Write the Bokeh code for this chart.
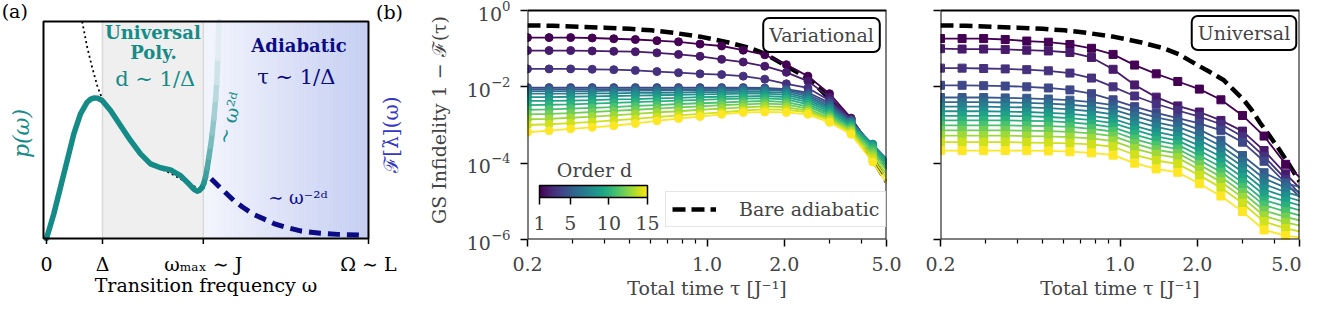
import numpy as np
from bokeh.plotting import figure
from bokeh.layouts import row
from bokeh.models import (Range1d, FixedTicker, Label, Legend, LegendItem, ColorBar,
                          LinearColorMapper, CustomJSTickFormatter)
from bokeh.palettes import Viridis256
from bokeh.embed import file_html
from bokeh.resources import INLINE

FONT = "DejaVu Serif"
TEAL = "#148b87"
NAVY = "#0b0b86"
BLUE_LBL = "#3636c4"

# ---------------- panel (a) data ----------------
a_tick_pos = [0.0, 1.0, 2.8, 5.75]
a_tick_labels = ["0", "Δ", "ωₘₐₓ ∼ J", "Ω ∼ L"]
a_box = [-0.0536, 5.75, 0.0, 1.0]          # axes box: left, right, bottom, top
a_xlim = [-0.8214, 6.6786]                  # whole canvas of panel (a)
a_ylim = [-0.2673, 1.0968]

omega_teal = [0.0, 0.131, 0.25, 0.369, 0.488, 0.607, 0.726, 0.79, 0.857, 0.92, 0.994, 1.143,
              1.321, 1.5, 1.679, 1.857, 2.036, 2.214, 2.393, 2.571, 2.64, 2.69, 2.73, 2.78]
p_teal = [0.0, 0.114, 0.236, 0.359, 0.482, 0.574, 0.628, 0.642, 0.648, 0.646, 0.636, 0.590,
          0.521, 0.452, 0.390, 0.344, 0.326, 0.316, 0.290, 0.244, 0.225, 0.218, 0.222, 0.236]

omega_fade = [2.78, 2.81, 2.84, 2.87, 2.90, 2.93, 2.96, 2.99, 3.02, 3.04, 3.06, 3.08]
p_fade = [0.236, 0.255, 0.283, 0.325, 0.375, 0.425, 0.485, 0.555, 0.64, 0.72, 0.83, 1.0]

omega_dot = [0.637, 0.726, 0.815, 0.905, 0.994, 1.143, 1.321, 1.5, 1.679, 1.857, 2.036, 2.214,
             2.393, 2.571, 2.72]
p_dot = [1.0, 0.882, 0.789, 0.705, 0.643, 0.582, 0.513, 0.445, 0.385, 0.344, 0.321, 0.301,
         0.275, 0.247, 0.233]

omega_decay = [2.94, 3.1, 3.345, 3.5, 3.70, 3.9, 4.06, 4.3, 4.536, 4.89, 5.2, 5.6]
p_decay = [0.275, 0.235, 0.175, 0.145, 0.111, 0.088, 0.069, 0.05, 0.035, 0.024, 0.019, 0.016]

# ---------------- panels (b), (c) data ----------------
tau = [0.2, 0.2427, 0.2945, 0.3573, 0.4335, 0.5261, 0.6383, 0.7745, 0.9398, 1.1403,
       1.3837, 1.6789, 2.0372, 2.4719, 2.9994, 3.6394, 4.4160, 5.3584]
orders = list(range(1, 16))
cbar_ticks = [1, 5, 10, 15]

# log10 of infidelity, variational
var_log = [
    [-0.71, -0.71, -0.71, -0.72, -0.74, -0.76, -0.79, -0.82, -0.88, -0.93, -1.04, -1.16, -1.42, -1.72, -2.18, -2.82, -3.62, -4.40],
    [-1.05, -1.05, -1.05, -1.06, -1.07, -1.08, -1.11, -1.15, -1.20, -1.28, -1.35, -1.46, -1.62, -1.85, -2.27, -2.84, -3.60, -4.35],
    [-1.53, -1.53, -1.53, -1.54, -1.55, -1.57, -1.60, -1.63, -1.66, -1.68, -1.72, -1.80, -1.92, -2.03, -2.36, -2.86, -3.58, -4.30],
    [-2.02, -2.02, -2.02, -2.02, -2.02, -2.02, -2.02, -2.02, -2.02, -2.02, -2.02, -2.03, -2.06, -2.15, -2.42, -2.88, -3.56, -4.25],
    [-2.06, -2.06, -2.06, -2.06, -2.06, -2.06, -2.06, -2.06, -2.06, -2.05, -2.05, -2.05, -2.08, -2.20, -2.47, -2.90, -3.54, -4.20],
    [-2.11, -2.11, -2.11, -2.11, -2.10, -2.10, -2.10, -2.09, -2.09, -2.09, -2.08, -2.08, -2.11, -2.25, -2.52, -2.92, -3.52, -4.15],
    [-2.18, -2.18, -2.18, -2.17, -2.17, -2.16, -2.16, -2.15, -2.14, -2.14, -2.13, -2.13, -2.16, -2.30, -2.56, -2.94, -3.50, -4.10],
    [-2.27, -2.27, -2.26, -2.25, -2.24, -2.23, -2.22, -2.21, -2.20, -2.19, -2.18, -2.18, -2.21, -2.35, -2.60, -2.97, -3.52, -4.12],
    [-2.37, -2.37, -2.36, -2.35, -2.33, -2.32, -2.30, -2.29, -2.27, -2.26, -2.25, -2.24, -2.27, -2.40, -2.65, -3.00, -3.55, -4.18],
    [-2.48, -2.47, -2.46, -2.44, -2.42, -2.40, -2.38, -2.36, -2.34, -2.32, -2.31, -2.30, -2.33, -2.46, -2.70, -3.04, -3.60, -4.26],
    [-2.60, -2.59, -2.57, -2.55, -2.53, -2.50, -2.48, -2.45, -2.43, -2.41, -2.39, -2.37, -2.40, -2.52, -2.75, -3.08, -3.66, -4.35],
    [-2.72, -2.71, -2.69, -2.66, -2.63, -2.60, -2.57, -2.54, -2.51, -2.48, -2.46, -2.44, -2.46, -2.58, -2.80, -3.12, -3.73, -4.45],
    [-2.85, -2.84, -2.81, -2.78, -2.75, -2.71, -2.67, -2.64, -2.60, -2.57, -2.54, -2.51, -2.53, -2.63, -2.84, -3.16, -3.80, -4.56],
    [-3.00, -2.98, -2.95, -2.92, -2.88, -2.84, -2.79, -2.75, -2.71, -2.67, -2.62, -2.59, -2.60, -2.67, -2.88, -3.20, -3.88, -4.68],
    [-3.19, -3.15, -3.10, -3.06, -3.02, -2.96, -2.89, -2.83, -2.78, -2.72, -2.67, -2.66, -2.67, -2.72, -2.93, -3.24, -3.97, -4.82],
]

# log10 of infidelity, universal
uni_log = [
    [-0.735, -0.735, -0.735, -0.76, -0.80, -0.83, -0.89, -0.99, -1.15, -1.43, -1.66, -1.86, -2.06, -2.34, -2.75, -3.29, -4.03, -4.55],
    [-1.00, -1.01, -1.01, -1.02, -1.04, -1.06, -1.10, -1.23, -1.54, -1.95, -2.27, -2.50, -2.66, -2.88, -3.16, -3.67, -4.28, -4.85],
    [-1.51, -1.51, -1.52, -1.53, -1.55, -1.58, -1.64, -1.77, -2.00, -2.24, -2.45, -2.62, -2.78, -2.98, -3.30, -3.82, -4.42, -5.00],
    [-1.96, -1.96, -1.97, -1.98, -2.00, -2.03, -2.08, -2.18, -2.34, -2.52, -2.68, -2.82, -2.96, -3.14, -3.45, -3.95, -4.52, -5.08],
    [-2.28, -2.28, -2.28, -2.29, -2.30, -2.32, -2.35, -2.40, -2.48, -2.64, -2.80, -2.92, -3.12, -3.40, -3.80, -4.25, -4.52, -4.68],
    [-2.40, -2.40, -2.40, -2.41, -2.42, -2.44, -2.47, -2.52, -2.60, -2.77, -2.93, -3.05, -3.26, -3.55, -3.95, -4.40, -4.64, -4.80],
    [-2.52, -2.52, -2.52, -2.53, -2.54, -2.56, -2.59, -2.64, -2.72, -2.89, -3.05, -3.17, -3.40, -3.69, -4.09, -4.55, -4.76, -4.92],
    [-2.64, -2.64, -2.64, -2.65, -2.66, -2.68, -2.71, -2.76, -2.84, -3.02, -3.18, -3.30, -3.54, -3.83, -4.23, -4.69, -4.88, -5.04],
    [-2.76, -2.76, -2.76, -2.76, -2.77, -2.79, -2.82, -2.87, -2.95, -3.13, -3.30, -3.41, -3.67, -3.97, -4.37, -4.83, -5.00, -5.16],
    [-2.88, -2.88, -2.88, -2.88, -2.89, -2.90, -2.93, -2.98, -3.06, -3.25, -3.41, -3.52, -3.80, -4.10, -4.51, -4.97, -5.13, -5.29],
    [-3.01, -3.01, -3.01, -3.01, -3.02, -3.03, -3.05, -3.10, -3.17, -3.37, -3.53, -3.63, -3.92, -4.23, -4.64, -5.10, -5.27, -5.42],
    [-3.14, -3.14, -3.14, -3.14, -3.15, -3.16, -3.18, -3.22, -3.29, -3.49, -3.65, -3.74, -4.04, -4.36, -4.77, -5.24, -5.41, -5.55],
    [-3.28, -3.28, -3.28, -3.28, -3.29, -3.30, -3.32, -3.35, -3.42, -3.62, -3.77, -3.86, -4.17, -4.49, -4.90, -5.38, -5.55, -5.68],
    [-3.45, -3.45, -3.45, -3.45, -3.46, -3.47, -3.48, -3.51, -3.57, -3.78, -3.93, -4.02, -4.32, -4.64, -5.05, -5.53, -5.71, -5.83],
    [-3.67, -3.67, -3.67, -3.67, -3.67, -3.68, -3.70, -3.73, -3.79, -4.00, -4.15, -4.24, -4.54, -4.86, -5.27, -5.75, -5.90, -5.98],
]

# bare adiabatic reference curve
adi_tau = [0.2, 0.25, 0.335, 0.4, 0.5, 0.608, 0.75, 0.95, 1.2, 1.48, 1.7, 2.0, 2.25, 2.53,
           2.75, 3.03, 3.25, 3.51, 3.8, 4.08, 4.3, 4.59, 4.94, 5.0]
adi_log = [-0.39, -0.40, -0.43, -0.45, -0.48, -0.52, -0.59, -0.69, -0.83, -0.99, -1.15, -1.43,
           -1.62, -1.82, -2.06, -2.34, -2.60, -2.94, -3.26, -3.55, -3.78, -4.07, -4.42, -4.48]

x_lim = [0.2, 5.0]
y_lim = [1e-6, 1.0]
y_top_canvas = 1.828          # frame extends 10px above the 10^0 line
y_ticks = [1e-6, 1e-4, 1e-2, 1.0]
x_ticks = [0.2, 1.0, 2.0, 5.0]
x_minor = [0.3, 0.4, 0.5, 0.6, 0.7, 0.8, 0.9, 3.0, 4.0]

colors = [Viridis256[int(round(k * 255 / 14))] for k in range(15)]


def hexmix(c0, c1, t):
    return "#%02x%02x%02x" % tuple(int(round(a + (b - a) * t)) for a, b in zip(c0, c1))


def style_axes(p):
    p.xgrid.visible = False
    p.ygrid.visible = False
    p.background_fill_color = "white"
    p.border_fill_color = "white"
    p.outline_line_color = None
    for ax in p.axis:
        ax.axis_line_color = None
        ax.major_tick_line_width = 1.5
        ax.minor_tick_line_width = 1.2
        ax.major_tick_in = 0
        ax.minor_tick_in = 0
        ax.major_label_text_font = FONT
        ax.major_label_text_font_size = "19px"
        ax.axis_label_text_font = FONT
        ax.axis_label_text_font_size = "19px"
        ax.axis_label_text_font_style = "normal"


# ---------------- panel (a): everything drawn inside one full-size frame ----------------
pa = figure(frame_width=420, frame_height=296, min_border_left=0, min_border_right=0,
            min_border_top=0, min_border_bottom=0,
            x_range=Range1d(*a_xlim), y_range=Range1d(*a_ylim),
            output_backend="svg", toolbar_location=None)
style_axes(pa)
pa.xaxis.visible = False
pa.yaxis.visible = False

# grey "universal" band
pa.quad(left=a_tick_pos[1], right=a_tick_pos[2], bottom=a_box[2], top=a_box[3],
        fill_color="#efefef", line_color=None)
# blue gradient "adiabatic" band
n = 90
edges = np.linspace(a_tick_pos[2], a_tick_pos[3], n + 1)
grad = [hexmix((243, 245, 253), (197, 206, 242), t) for t in np.linspace(0, 1, n)]
pa.quad(left=edges[:-1], right=edges[1:], bottom=a_box[2], top=a_box[3], fill_color=grad,
        line_color=grad, line_width=0.6)
pa.segment(x0=a_tick_pos[1:3], y0=[a_box[2]] * 2, x1=a_tick_pos[1:3], y1=[a_box[3]] * 2,
           line_color="#d9d9d9", line_width=1.5)

pa.line(omega_dot, p_dot, line_color="black", line_width=1.8, line_dash="2 3")
pa.line(omega_teal, p_teal, line_color=TEAL, line_width=5.5, line_join="round", line_cap="round")
fade = [hexmix((20, 139, 135), (236, 242, 249), t) for t in np.linspace(0, 0.95, len(omega_fade) - 1)]
pa.segment(x0=omega_fade[:-1], y0=p_fade[:-1], x1=omega_fade[1:], y1=p_fade[1:],
           line_color=fade, line_width=5.5, line_cap="round")
pa.line(omega_decay, p_decay, line_color=NAVY, line_width=5, line_dash="12 7")

# axes box and ticks of panel (a)
pa.quad(left=a_box[0], right=a_box[1], bottom=a_box[2], top=a_box[3], fill_color=None,
        line_color="black", line_width=2)
tick_len = 0.025
pa.segment(x0=a_tick_pos, y0=[a_box[2]] * 4, x1=a_tick_pos, y1=[a_box[2] - tick_len] * 4,
           line_color="black", line_width=1.5)


def alabel(x, y, text, size, color, style="normal", angle=0, align="center"):
    pa.add_layout(Label(x=x, y=y, text=text, text_font=FONT, text_font_size=size,
                        text_color=color, text_font_style=style, angle=angle, angle_units="deg",
                        text_align=align, text_baseline="middle"))


for pos, lab in zip(a_tick_pos, a_tick_labels):
    alabel(pos, -0.118, lab, "19px", "black")
alabel((a_box[0] + a_box[1]) / 2, -0.214, "Transition frequency ω", "19px", "black")

alabel(1.90, 0.95, "Universal", "18px", TEAL, "bold")
alabel(1.91, 0.857, "Poly.", "18px", TEAL, "bold")
alabel(1.94, 0.733, "d ∼ 1/Δ", "21px", TEAL)
alabel(4.51, 0.889, "Adiabatic", "18px", NAVY, "bold")
alabel(4.46, 0.742, "τ ∼ 1/Δ", "21px", NAVY)
alabel(3.27, 0.555, "∼ ω²ᵈ", "19px", TEAL, angle=74)
alabel(4.49, 0.187, "∼ ω⁻²ᵈ", "18px", NAVY)
alabel(-0.446, 0.484, "p(ω)", "22px", TEAL, "italic", angle=90)
alabel(6.16, 0.479, "ℱ[λ̇](ω)", "20px", BLUE_LBL, angle=90)
alabel(-0.80, 1.0507, "(a)", "19px", "black", align="left")
alabel(6.125, 1.0415, "(b)", "19px", "black")


# ---------------- panels (b), (c) ----------------
def make_panel(vals, marker, box_text, box_sx, box_sy, left, right, ylabel):
    p = figure(x_axis_type="log", y_axis_type="log",
               x_range=Range1d(*x_lim), y_range=Range1d(y_lim[0], y_top_canvas),
               frame_width=359, frame_height=239, min_border_left=left, min_border_right=right,
               min_border_top=0, min_border_bottom=57,
               output_backend="svg", toolbar_location=None)
    style_axes(p)
    p.xaxis.ticker = FixedTicker(ticks=x_ticks, minor_ticks=x_minor)
    p.xaxis.formatter = CustomJSTickFormatter(code="return tick.toFixed(1)")
    p.yaxis.ticker = FixedTicker(ticks=y_ticks, minor_ticks=[])
    for ax in p.axis:
        ax.major_tick_out = 7
        ax.minor_tick_out = 4
    p.xaxis.major_label_standoff = 10
    p.xaxis.axis_label = "Total time τ [J⁻¹]"
    p.xaxis.axis_label_standoff = 3
    p.yaxis.major_label_standoff = 10
    if ylabel:
        p.yaxis.axis_label = ylabel
        p.yaxis.axis_label_standoff = 14
    else:
        p.yaxis.formatter = CustomJSTickFormatter(code="return ''")

    adi = p.line(adi_tau, 10.0 ** np.array(adi_log), line_color="black", line_width=4.5,
                 line_dash="13 6")
    t = np.array(tau)
    for k, v in enumerate(vals):
        y = 10.0 ** np.array(v)
        p.line(t, y, line_color=colors[k], line_width=1.8)
        p.scatter(t, y, marker=marker, size=8, fill_color=colors[k], line_color=colors[k])

    # axes box
    p.quad(left=x_lim[0], right=x_lim[1], bottom=y_lim[0], top=y_lim[1], fill_color=None,
           line_color="black", line_width=2)

    p.add_layout(Label(x=box_sx, y=box_sy, x_units="screen", y_units="screen", text=box_text,
                       text_font=FONT, text_font_size="19px", text_align="center",
                       text_baseline="middle", background_fill_color="white",
                       border_line_color="black", border_line_width=2, padding=6,
                       border_radius=6))
    return p, adi


pb, adi_b = make_panel(var_log, "circle", "Variational", 294, 204.5, 107, 19,
                       "GS Infidelity 1 − ℱ(τ)")
pc, _ = make_panel(uni_log, "square", "Universal", 303.5, 206.5, 35, 2, None)

legend = Legend(items=[LegendItem(label="Bare adiabatic", renderers=[adi_b])],
                location=(138, 12), label_text_font=FONT, label_text_font_size="19px",
                glyph_width=44, glyph_height=22, label_height=22, label_standoff=23,
                padding=6, margin=0, spacing=0, border_line_color="#cccccc",
                border_line_width=1.5, background_fill_alpha=0.85)
pb.add_layout(legend)

mapper = LinearColorMapper(palette=Viridis256, low=orders[0], high=orders[-1])
cbar = ColorBar(color_mapper=mapper, orientation="horizontal", location=(12, 7),
                width=108, height=12, padding=0, ticker=FixedTicker(ticks=cbar_ticks),
                major_label_text_font=FONT, major_label_text_font_size="19px",
                major_tick_in=0, major_tick_out=7, major_tick_line_color="black",
                major_tick_line_width=1.5, bar_line_color="black", bar_line_width=1.5,
                background_fill_alpha=0, border_line_alpha=0, label_standoff=11)
pb.add_layout(cbar)
pb.add_layout(Label(x=67, y=70, x_units="screen", y_units="screen", text="Order d",
                    text_font=FONT, text_font_size="19px", text_align="center",
                    text_baseline="middle"))

layout = row(pa, pb, pc, spacing=0)
open("out.html", "w").write(file_html(layout, INLINE))
